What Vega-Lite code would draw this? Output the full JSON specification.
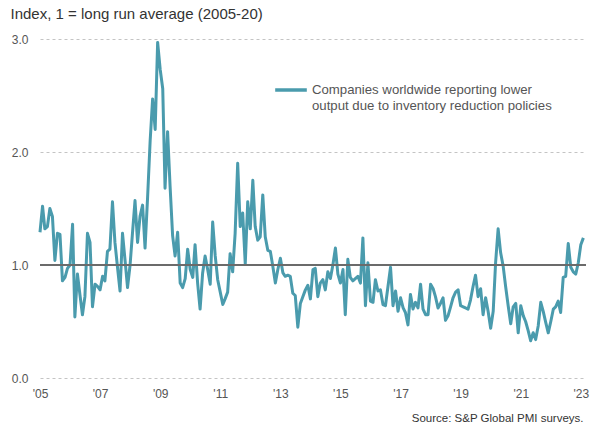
{
  "$schema": "https://vega.github.io/schema/vega-lite/v6.json",
  "width": 546,
  "height": 339,
  "autosize": "none",
  "padding": {"left": 40, "top": 39, "right": 4, "bottom": 53},
  "background": "white",
  "config": {"view": {"stroke": null}, "font": "Liberation Sans"},
  "data": {"values": [
    {"d":"2005-01","v":1.29},{"d":"2005-02","v":1.52},{"d":"2005-03","v":1.32},{"d":"2005-04","v":1.34},{"d":"2005-05","v":1.50},{"d":"2005-06","v":1.43},{"d":"2005-07","v":1.04},{"d":"2005-08","v":1.28},{"d":"2005-09","v":1.27},{"d":"2005-10","v":0.86},{"d":"2005-11","v":0.89},{"d":"2005-12","v":0.97},
    {"d":"2006-01","v":1.00},{"d":"2006-02","v":1.36},{"d":"2006-03","v":0.54},{"d":"2006-04","v":0.92},{"d":"2006-05","v":0.74},{"d":"2006-06","v":0.56},{"d":"2006-07","v":0.72},{"d":"2006-08","v":1.28},{"d":"2006-09","v":1.20},{"d":"2006-10","v":0.63},{"d":"2006-11","v":0.83},{"d":"2006-12","v":0.81},
    {"d":"2007-01","v":0.78},{"d":"2007-02","v":0.90},{"d":"2007-03","v":0.86},{"d":"2007-04","v":1.12},{"d":"2007-05","v":1.14},{"d":"2007-06","v":1.56},{"d":"2007-07","v":1.20},{"d":"2007-08","v":0.98},{"d":"2007-09","v":0.77},{"d":"2007-10","v":1.28},{"d":"2007-11","v":1.04},{"d":"2007-12","v":0.80},
    {"d":"2008-01","v":1.00},{"d":"2008-02","v":1.30},{"d":"2008-03","v":1.57},{"d":"2008-04","v":1.20},{"d":"2008-05","v":1.43},{"d":"2008-06","v":1.53},{"d":"2008-07","v":1.15},{"d":"2008-08","v":1.60},{"d":"2008-09","v":2.10},{"d":"2008-10","v":2.47},{"d":"2008-11","v":2.20},{"d":"2008-12","v":2.97},
    {"d":"2009-01","v":2.73},{"d":"2009-02","v":2.56},{"d":"2009-03","v":1.68},{"d":"2009-04","v":2.18},{"d":"2009-05","v":1.70},{"d":"2009-06","v":1.26},{"d":"2009-07","v":1.08},{"d":"2009-08","v":1.29},{"d":"2009-09","v":0.84},{"d":"2009-10","v":0.80},{"d":"2009-11","v":0.88},{"d":"2009-12","v":1.14},
    {"d":"2010-01","v":0.96},{"d":"2010-02","v":0.89},{"d":"2010-03","v":1.18},{"d":"2010-04","v":0.84},{"d":"2010-05","v":0.61},{"d":"2010-06","v":0.93},{"d":"2010-07","v":1.08},{"d":"2010-08","v":0.96},{"d":"2010-09","v":0.83},{"d":"2010-10","v":1.38},{"d":"2010-11","v":1.08},{"d":"2010-12","v":0.87},
    {"d":"2011-01","v":0.76},{"d":"2011-02","v":0.65},{"d":"2011-03","v":0.70},{"d":"2011-04","v":0.76},{"d":"2011-05","v":1.10},{"d":"2011-06","v":0.94},{"d":"2011-07","v":1.28},{"d":"2011-08","v":1.90},{"d":"2011-09","v":1.34},{"d":"2011-10","v":1.46},{"d":"2011-11","v":1.01},{"d":"2011-12","v":1.56},
    {"d":"2012-01","v":1.32},{"d":"2012-02","v":1.75},{"d":"2012-03","v":1.34},{"d":"2012-04","v":1.22},{"d":"2012-05","v":1.25},{"d":"2012-06","v":1.62},{"d":"2012-07","v":1.25},{"d":"2012-08","v":1.13},{"d":"2012-09","v":1.12},{"d":"2012-10","v":0.99},{"d":"2012-11","v":0.84},{"d":"2012-12","v":0.96},
    {"d":"2013-01","v":1.06},{"d":"2013-02","v":0.93},{"d":"2013-03","v":0.90},{"d":"2013-04","v":0.91},{"d":"2013-05","v":0.90},{"d":"2013-06","v":0.75},{"d":"2013-07","v":0.73},{"d":"2013-08","v":0.45},{"d":"2013-09","v":0.66},{"d":"2013-10","v":0.72},{"d":"2013-11","v":0.78},{"d":"2013-12","v":0.82},
    {"d":"2014-01","v":0.70},{"d":"2014-02","v":0.96},{"d":"2014-03","v":0.97},{"d":"2014-04","v":0.72},{"d":"2014-05","v":0.84},{"d":"2014-06","v":0.87},{"d":"2014-07","v":0.78},{"d":"2014-08","v":0.94},{"d":"2014-09","v":0.88},{"d":"2014-10","v":1.00},{"d":"2014-11","v":1.15},{"d":"2014-12","v":0.92},
    {"d":"2015-01","v":0.84},{"d":"2015-02","v":0.96},{"d":"2015-03","v":0.56},{"d":"2015-04","v":1.05},{"d":"2015-05","v":0.89},{"d":"2015-06","v":0.86},{"d":"2015-07","v":0.88},{"d":"2015-08","v":0.90},{"d":"2015-09","v":0.84},{"d":"2015-10","v":1.24},{"d":"2015-11","v":0.64},{"d":"2015-12","v":1.02},
    {"d":"2016-01","v":0.68},{"d":"2016-02","v":0.67},{"d":"2016-03","v":0.87},{"d":"2016-04","v":0.77},{"d":"2016-05","v":0.78},{"d":"2016-06","v":0.65},{"d":"2016-07","v":0.64},{"d":"2016-08","v":0.81},{"d":"2016-09","v":0.98},{"d":"2016-10","v":0.64},{"d":"2016-11","v":0.77},{"d":"2016-12","v":0.59},
    {"d":"2017-01","v":0.71},{"d":"2017-02","v":0.62},{"d":"2017-03","v":0.58},{"d":"2017-04","v":0.47},{"d":"2017-05","v":0.74},{"d":"2017-06","v":0.61},{"d":"2017-07","v":0.67},{"d":"2017-08","v":0.62},{"d":"2017-09","v":0.83},{"d":"2017-10","v":0.61},{"d":"2017-11","v":0.56},{"d":"2017-12","v":0.56},
    {"d":"2018-01","v":0.83},{"d":"2018-02","v":0.79},{"d":"2018-03","v":0.72},{"d":"2018-04","v":0.62},{"d":"2018-05","v":0.66},{"d":"2018-06","v":0.71},{"d":"2018-07","v":0.51},{"d":"2018-08","v":0.55},{"d":"2018-09","v":0.63},{"d":"2018-10","v":0.71},{"d":"2018-11","v":0.76},{"d":"2018-12","v":0.78},
    {"d":"2019-01","v":0.64},{"d":"2019-02","v":0.63},{"d":"2019-03","v":0.62},{"d":"2019-04","v":0.61},{"d":"2019-05","v":0.69},{"d":"2019-06","v":0.81},{"d":"2019-07","v":0.91},{"d":"2019-08","v":0.72},{"d":"2019-09","v":0.79},{"d":"2019-10","v":0.56},{"d":"2019-11","v":0.71},{"d":"2019-12","v":0.59},
    {"d":"2020-01","v":0.44},{"d":"2020-02","v":0.59},{"d":"2020-03","v":1.02},{"d":"2020-04","v":1.32},{"d":"2020-05","v":1.11},{"d":"2020-06","v":0.99},{"d":"2020-07","v":0.81},{"d":"2020-08","v":0.64},{"d":"2020-09","v":0.48},{"d":"2020-10","v":0.63},{"d":"2020-11","v":0.66},{"d":"2020-12","v":0.40},
    {"d":"2021-01","v":0.64},{"d":"2021-02","v":0.55},{"d":"2021-03","v":0.50},{"d":"2021-04","v":0.42},{"d":"2021-05","v":0.33},{"d":"2021-06","v":0.40},{"d":"2021-07","v":0.34},{"d":"2021-08","v":0.46},{"d":"2021-09","v":0.67},{"d":"2021-10","v":0.59},{"d":"2021-11","v":0.49},{"d":"2021-12","v":0.40},
    {"d":"2022-01","v":0.50},{"d":"2022-02","v":0.61},{"d":"2022-03","v":0.63},{"d":"2022-04","v":0.68},{"d":"2022-05","v":0.58},{"d":"2022-06","v":0.89},{"d":"2022-07","v":0.90},{"d":"2022-08","v":1.19},{"d":"2022-09","v":0.98},{"d":"2022-10","v":0.94},{"d":"2022-11","v":0.92},{"d":"2022-12","v":1.02},
    {"d":"2023-01","v":1.18},{"d":"2023-02","v":1.24}
  ]},
  "layer": [
    {
      "mark": {"type": "line", "strokeWidth": 3, "strokeJoin": "round"},
      "encoding": {
        "x": {
          "field": "d", "type": "temporal",
          "scale": {"domain": [{"year": 2005, "month": 1, "date": 1}, {"year": 2023, "month": 3, "date": 5}]},
          "axis": {
            "values": [{"year":2005,"month":1,"date":1},{"year":2007,"month":1,"date":1},{"year":2009,"month":1,"date":1},{"year":2011,"month":1,"date":1},{"year":2013,"month":1,"date":1},{"year":2015,"month":1,"date":1},{"year":2017,"month":1,"date":1},{"year":2019,"month":1,"date":1},{"year":2021,"month":1,"date":1},{"year":2023,"month":1,"date":1}],
            "labelExpr": "\"'\" + timeFormat(datum.value, '%y')",
            "grid": false, "domain": false, "ticks": false,
            "labelPadding": 10, "labelFontSize": 12, "labelColor": "#555555", "labelFlush": false,
            "title": "Source: S&P Global PMI surveys.",
            "titleFontSize": 11.5, "titleFontWeight": "normal", "titleColor": "#333333",
            "titleAnchor": "end", "titleAlign": "right", "titleX": 543, "titleY": 40, "titleBaseline": "middle"
          }
        },
        "y": {
          "field": "v", "type": "quantitative",
          "scale": {"domain": [0, 3], "nice": false, "zero": true},
          "axis": {
            "values": [0, 1, 2, 3], "format": ".1f",
            "grid": true, "gridDash": [3, 3], "gridColor": "#c4c4c4", "gridWidth": 1,
            "domain": false, "ticks": false,
            "labelPadding": 12, "labelFontSize": 12, "labelColor": "#555555",
            "title": "Index, 1 = long run average (2005-20)",
            "titleAngle": 0, "titleAlign": "left", "titleBaseline": "middle",
            "titleX": -30, "titleY": -26, "titleFontSize": 15, "titleFontWeight": "normal", "titleColor": "#333333"
          }
        },
        "color": {
          "datum": "s",
          "scale": {"range": ["#4A9BAD"]},
          "legend": {
            "orient": "none", "legendX": 233, "legendY": 33, "title": null,
            "symbolType": "stroke", "symbolSize": 1000, "symbolStrokeWidth": 3.5,
            "labelExpr": "['Companies worldwide reporting lower', 'output due to inventory reduction policies']",
            "labelFontSize": 13.2, "labelColor": "#555555", "labelOffset": 3, "labelLimit": 400,
            "encode": {"labels": {"update": {"lineHeight": {"value": 15.5}}}}
          }
        }
      }
    },
    {
      "mark": {"type": "rule", "color": "#6b6b6b", "strokeWidth": 1.5},
      "encoding": {"y": {"datum": 1, "type": "quantitative"}}
    }
  ]
}
